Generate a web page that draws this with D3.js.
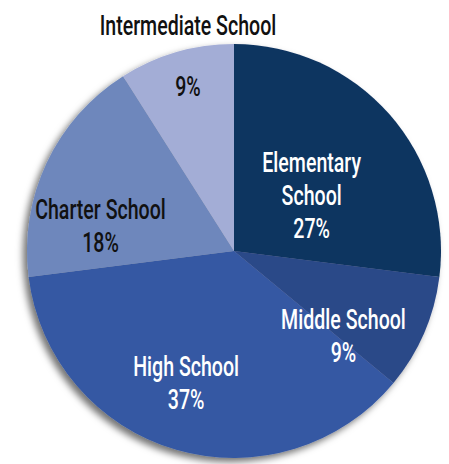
<!DOCTYPE html>
<html><head><meta charset="utf-8">
<script src="https://cdn.jsdelivr.net/npm/d3@7"></script>
<style>
html,body{margin:0;padding:0;background:#fff;}
svg{display:block;}
text{font-family:Roboto,"DejaVu Sans Condensed",sans-serif;font-weight:500;}
</style></head>
<body>
<svg id="chart" width="449" height="464"></svg>
<script>
const categories = ["Elementary School", "Middle School", "High School", "Charter School", "Intermediate School"];
const values = [27, 9, 37, 18, 9];
const labelLines = [["Elementary", "School", "27%"], ["Middle School", "9%"], ["High School", "37%"], ["Charter School", "18%"], ["9%"]];
const outsideTitle = "Intermediate School";

const colors = ["#0d3461", "#2c4888", "#3558a3", "#6e87bc", "#a3add6"];
const textColors = ["#fff", "#fff", "#fff", "#111", "#111"];
// label anchor in polar coords (radius px, angle deg from top, clockwise)
const labelPolar = [[96, 54], [138, 127.5], [140, 200], [136, 281], [171, 344.4]];

const cx = 234, cy = 251, R = 207;
const svg = d3.select("#chart");
const defs = svg.append("defs");
const f = defs.append("filter").attr("id", "sh").attr("x", "-20%").attr("y", "-20%").attr("width", "140%").attr("height", "140%");
f.append("feDropShadow").attr("dx", -4).attr("dy", 4).attr("stdDeviation", 3.5).attr("flood-color", "#000").attr("flood-opacity", 0.55);

const pie = d3.pie().sort(null).value(d => d)(values);
const arc = d3.arc().innerRadius(0).outerRadius(R);
const g = svg.append("g").attr("transform", `translate(${cx},${cy})`);
g.append("g").attr("filter", "url(#sh)")
  .selectAll("path").data(pie).join("path")
  .attr("d", arc).attr("fill", (d, i) => colors[i]);

const fs = 28, lh = 33, sx = 0.7;
pie.forEach((d, i) => {
  const [r, a] = labelPolar[i];
  const rad = a * Math.PI / 180;
  const x = r * Math.sin(rad), y = -r * Math.cos(rad);
  const lines = labelLines[i];
  const t = g.append("text").attr("text-anchor", "middle").attr("fill", textColors[i])
    .attr("font-size", fs).attr("transform", `translate(${x},${y}) scale(${sx},1)`);
  lines.forEach((ln, k) => {
    t.append("tspan").attr("x", 0).attr("y", (k - (lines.length - 1) / 2) * lh + fs * 0.36).text(ln);
  });
});
svg.append("text").attr("text-anchor", "middle").attr("fill", "#111").attr("font-size", fs)
  .attr("transform", `translate(188,35) scale(${sx},1)`).text(outsideTitle);
</script>
</body></html>
